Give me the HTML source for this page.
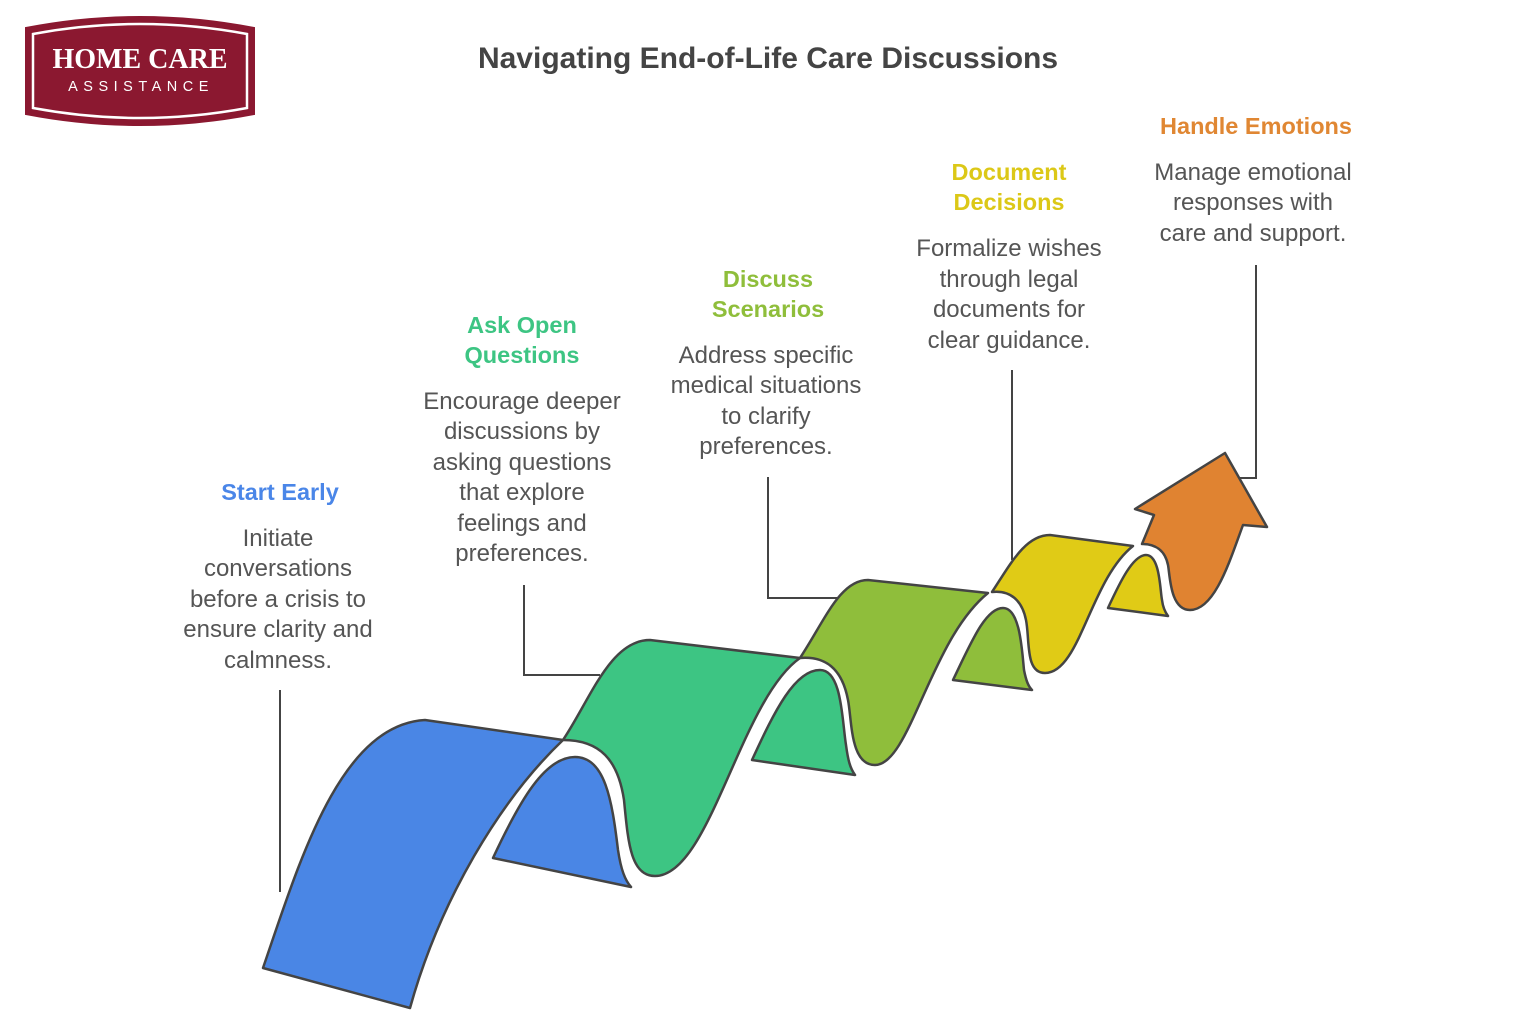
<!DOCTYPE html>
<html><head><meta charset="utf-8"><style>
html,body{margin:0;padding:0;background:#fff;}
svg{display:block;}
text{font-family:"Liberation Sans",Arial,sans-serif;}
.b{font-size:24px;fill:#555;text-anchor:middle;}
.h{font-size:23.5px;font-weight:bold;text-anchor:middle;}
</style></head><body>
<svg width="1536" height="1024" viewBox="0 0 1536 1024" xmlns="http://www.w3.org/2000/svg">
<!-- logo -->
<path d="M26,28 Q140,6 254,28 L254,114 Q140,136 26,114 Z" fill="#8B1830" stroke="#8B1830" stroke-width="2"/>
<path d="M33,34 Q140,14 247,34 L247,108 Q140,128 33,108 Z" fill="none" stroke="#fff" stroke-width="2.5"/>
<text x="140" y="68" text-anchor="middle" style="font-family:'Liberation Serif',serif;font-size:28px;font-weight:bold;fill:#fff">HOME CARE</text>
<text x="141" y="91" text-anchor="middle" style="font-size:14.5px;fill:#fff;letter-spacing:5.5px">ASSISTANCE</text>
<!-- title -->
<text x="768" y="68" text-anchor="middle" style="font-size:30px;font-weight:bold;fill:#444">Navigating End-of-Life Care Discussions</text>
<!-- connectors -->
<g stroke="#444" stroke-width="2" fill="none">
<path d="M280,690 V892"/>
<path d="M524,585 V675 H600"/>
<path d="M768,477 V598 H840"/>
<path d="M1012,370 V560"/>
<path d="M1256,265 V478 H1236"/>
</g>
<g stroke="#444" stroke-width="2.5" stroke-linejoin="round">
<path d="M263,968 C300,860 340,725 425,720 L563,740 C500,800 440,900 410,1008 Z" fill="#4A86E5"/>
<path d="M493,858 C520,800 545,757 575,757 C605,757 612,800 618,850 C621,870 625,880 631,887 Z" fill="#4A86E5"/>
<path d="M563,740 C590,700 610,640 650,640 L800,658 C740,700 710,876 655,876 C630,876 628,840 624,800 C618,760 600,740 563,740 Z" fill="#3DC583"/>
<path d="M752,760 C775,710 795,670 820,670 C842,670 842,720 846,745 C848,760 850,768 855,775 Z" fill="#3DC583"/>
<path d="M800,658 C825,620 840,580 868,580 L988,593 C930,640 910,765 875,765 C850,765 852,720 848,700 C842,668 825,656 800,658 Z" fill="#8FBE3B"/>
<path d="M953,680 C970,645 985,608 1003,608 C1020,608 1022,650 1024,670 C1026,680 1028,686 1032,690 Z" fill="#8FBE3B"/>
<path d="M992,592 C1010,565 1025,535 1050,535 L1133,546 C1090,580 1080,673 1045,673 C1025,673 1030,640 1026,620 C1022,600 1010,590 992,592 Z" fill="#E0CB16"/>
<path d="M1108,608 C1120,582 1133,555 1146,555 C1160,555 1160,590 1162,600 C1163,608 1165,612 1168,616 Z" fill="#E0CB16"/>
<path d="M1142,544 L1154,515 L1135,509 L1225,453 L1267,527 L1243,525 C1230,560 1215,610 1190,610 C1170,610 1170,575 1168,565 C1165,550 1155,544 1142,544 Z" fill="#E08331"/>
</g>
<!-- labels -->
<text class="h" x="280" y="500" fill="#4A86E8">Start Early</text>
<text class="b" x="278" y="546">Initiate</text>
<text class="b" x="278" y="576">conversations</text>
<text class="b" x="278" y="607">before a crisis to</text>
<text class="b" x="278" y="637">ensure clarity and</text>
<text class="b" x="278" y="668">calmness.</text>

<text class="h" x="522" y="333" fill="#3DC583">Ask Open</text>
<text class="h" x="522" y="363" fill="#3DC583">Questions</text>
<text class="b" x="522" y="409">Encourage deeper</text>
<text class="b" x="522" y="439">discussions by</text>
<text class="b" x="522" y="470">asking questions</text>
<text class="b" x="522" y="500">that explore</text>
<text class="b" x="522" y="531">feelings and</text>
<text class="b" x="522" y="561">preferences.</text>

<text class="h" x="768" y="287" fill="#8FBE3B">Discuss</text>
<text class="h" x="768" y="317" fill="#8FBE3B">Scenarios</text>
<text class="b" x="766" y="363">Address specific</text>
<text class="b" x="766" y="393">medical situations</text>
<text class="b" x="766" y="424">to clarify</text>
<text class="b" x="766" y="454">preferences.</text>

<text class="h" x="1009" y="180" fill="#DCC817">Document</text>
<text class="h" x="1009" y="210" fill="#DCC817">Decisions</text>
<text class="b" x="1009" y="256">Formalize wishes</text>
<text class="b" x="1009" y="287">through legal</text>
<text class="b" x="1009" y="317">documents for</text>
<text class="b" x="1009" y="348">clear guidance.</text>

<text class="h" x="1256" y="134" fill="#E08733">Handle Emotions</text>
<text class="b" x="1253" y="180">Manage emotional</text>
<text class="b" x="1253" y="210">responses with</text>
<text class="b" x="1253" y="241">care and support.</text>
</svg>
</body></html>
